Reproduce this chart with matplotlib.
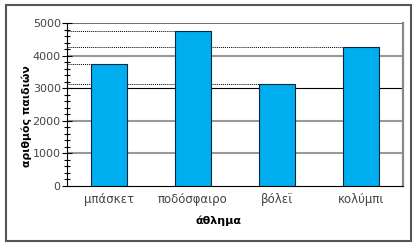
import matplotlib
matplotlib.use("Agg")
import matplotlib.pyplot as plt
from matplotlib.patches import Rectangle
from matplotlib.ticker import MultipleLocator

categories = ["μπάσκετ", "ποδόσφαιρο", "βόλεϊ", "κολύμπι"]
values = [3750, 4750, 3130, 4250]
yticks = [0, 1000, 2000, 3000, 4000, 5000]

plt.rcParams['font.family'] = ['DejaVu Sans']

fig = plt.figure(figsize=(4.14, 2.46), dpi=100)
fig.patch.set_facecolor('white')

# outer frame
fig.add_artist(Rectangle((6/414, 1-241/246), (411-6)/414, (241-5)/246,
                         transform=fig.transFigure, fill=False,
                         edgecolor='#555555', linewidth=1.5))

ax = fig.add_axes([67/414, 1-186/246, (403-67)/414, (186-23)/246])
x = list(range(len(categories)))

# gridlines
for v in yticks[1:]:
    if v == 3000:
        ax.axhline(v, color='black', linewidth=0.8, zorder=1)
    elif v == 5000:
        ax.axhline(v, color='#555555', linewidth=1.2, zorder=1)
    else:
        ax.axhline(v, color='#999999', linewidth=1.5, zorder=1)

# dotted guide lines from axis to bar tops
width = 0.42
for xi, v in zip(x, values):
    ax.plot([-0.5, xi - width/2], [v, v], color='black', linestyle=(0, (1, 1)),
            linewidth=0.7, zorder=2)

ax.bar(x, values, width=width, color='#00AEEF', edgecolor='#0a2540',
       linewidth=0.8, zorder=3)

ax.set_xlim(-0.5, 3.5)
ax.set_ylim(0, 5000)
ax.set_yticks(yticks)
ax.yaxis.set_minor_locator(MultipleLocator(200))
ax.set_xticks(x)
ax.set_xticklabels(categories, fontsize=8.5, color='#444444')
ax.tick_params(axis='y', which='major', direction='inout', length=7, width=0.8,
               labelsize=8, labelcolor='#444444', pad=1)
ax.tick_params(axis='y', which='minor', direction='inout', length=5, width=0.8)
ax.tick_params(axis='x', length=0, pad=5)

ax.spines['left'].set_color('black')
ax.spines['bottom'].set_color('black')
ax.spines['top'].set_visible(False)
ax.spines['right'].set_color('#888888')
ax.spines['right'].set_linewidth(1.6)

ax.set_ylabel("αριθμός παιδιών", fontsize=7.8, fontweight='bold')
ax.yaxis.set_label_coords(-0.105, 0.43)
ax.set_xlabel("άθλημα", fontsize=8, fontweight='bold')
ax.xaxis.set_label_coords(0.45, -0.18)

fig.savefig("out.png", dpi=100)
